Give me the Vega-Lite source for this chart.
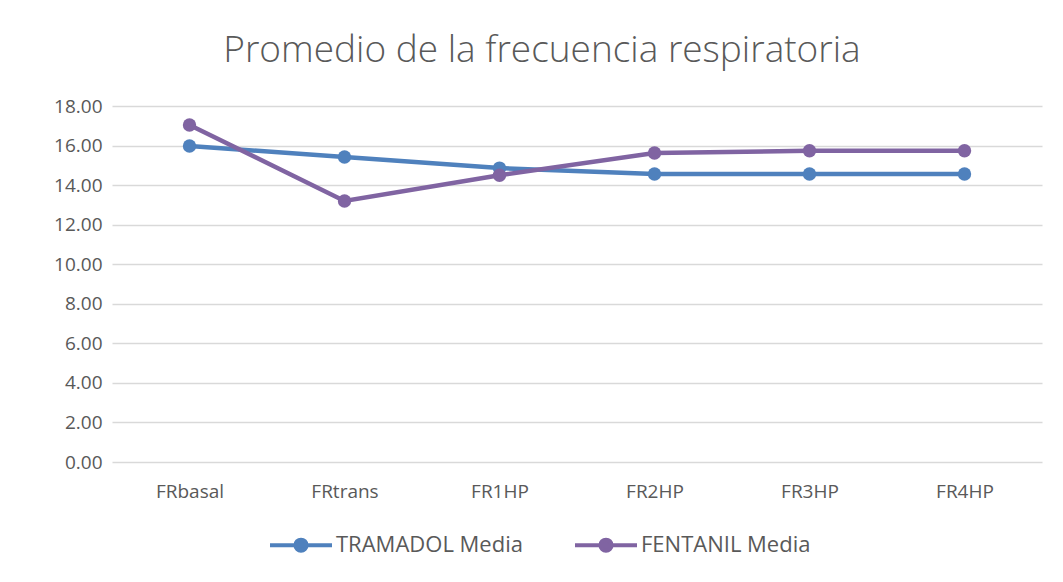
{
  "$schema": "https://vega.github.io/schema/vega-lite/v6.json",
  "width": 930,
  "height": 356,
  "autosize": {"type": "none"},
  "padding": {"left": 112, "top": 106, "right": 21, "bottom": 120},
  "background": "white",
  "title": {
    "text": "Promedio de la frecuencia respiratoria",
    "anchor": "middle",
    "dx": -35,
    "offset": 27,
    "fontSize": 37,
    "font": "Open Sans",
    "fontWeight": 300,
    "color": "#595959"
  },
  "config": {
    "view": {"stroke": null},
    "font": "Open Sans",
    "axis": {"labelFont": "Open Sans", "labelColor": "#595959", "labelFontSize": 19, "title": null, "ticks": false, "domain": false},
    "legend": {"labelFont": "Open Sans", "labelColor": "#595959", "labelFontSize": 22, "labelLimit": 0}
  },
  "data": {
    "values": [
      {"cat": "FRbasal", "serie": "TRAMADOL Media", "v": 15.98},
      {"cat": "FRtrans", "serie": "TRAMADOL Media", "v": 15.42},
      {"cat": "FR1HP", "serie": "TRAMADOL Media", "v": 14.86},
      {"cat": "FR2HP", "serie": "TRAMADOL Media", "v": 14.56},
      {"cat": "FR3HP", "serie": "TRAMADOL Media", "v": 14.56},
      {"cat": "FR4HP", "serie": "TRAMADOL Media", "v": 14.56},
      {"cat": "FRbasal", "serie": "FENTANIL Media", "v": 17.04},
      {"cat": "FRtrans", "serie": "FENTANIL Media", "v": 13.2},
      {"cat": "FR1HP", "serie": "FENTANIL Media", "v": 14.5},
      {"cat": "FR2HP", "serie": "FENTANIL Media", "v": 15.62},
      {"cat": "FR3HP", "serie": "FENTANIL Media", "v": 15.74},
      {"cat": "FR4HP", "serie": "FENTANIL Media", "v": 15.74}
    ]
  },
  "encoding": {
    "x": {
      "field": "cat", "type": "ordinal",
      "sort": ["FRbasal", "FRtrans", "FR1HP", "FR2HP", "FR3HP", "FR4HP"],
      "scale": {"type": "point", "padding": 0.5},
      "axis": {"labelAngle": 0, "labelPadding": 20, "grid": false}
    },
    "y": {
      "field": "v", "type": "quantitative",
      "scale": {"domain": [0, 18]},
      "axis": {"values": [0, 2, 4, 6, 8, 10, 12, 14, 16, 18], "format": ".2f", "labelPadding": 10, "grid": true, "gridColor": "#d9d9d9", "gridWidth": 1.3}
    },
    "color": {
      "field": "serie", "type": "nominal",
      "sort": ["TRAMADOL Media", "FENTANIL Media"],
      "scale": {"domain": ["TRAMADOL Media", "FENTANIL Media"], "range": ["#4f81bd", "#8064a2"]}
    }
  },
  "layer": [
    {
      "mark": {"type": "line", "strokeWidth": 4.5},
      "encoding": {
        "color": {
          "field": "serie", "type": "nominal",
          "sort": ["TRAMADOL Media", "FENTANIL Media"],
          "scale": {"domain": ["TRAMADOL Media", "FENTANIL Media"], "range": ["#4f81bd", "#8064a2"]},
          "legend": {
            "orient": "none",
            "legendX": 156,
            "legendY": 406,
            "direction": "horizontal",
            "title": null,
            "columns": 2,
            "columnPadding": 44,
            "symbolType": "M-1,0H1M0.18,0A0.18,0.18 0 1,1 -0.18,0A0.18,0.18 0 1,1 0.18,0Z",
            "symbolSize": 3844,
            "symbolStrokeWidth": 4,
            "labelOffset": 2,
            "labelLimit": 0,
            "encode": {"symbols": {"update": {"fill": {"scale": "color", "field": "value"}, "fillOpacity": {"value": 1}}}}
          }
        }
      }
    },
    {
      "mark": {"type": "point", "filled": true, "size": 180, "opacity": 1},
      "encoding": {
        "color": {
          "field": "serie", "type": "nominal",
          "sort": ["TRAMADOL Media", "FENTANIL Media"],
          "scale": {"domain": ["TRAMADOL Media", "FENTANIL Media"], "range": ["#4f81bd", "#8064a2"]},
          "legend": null
        }
      }
    }
  ]
}
